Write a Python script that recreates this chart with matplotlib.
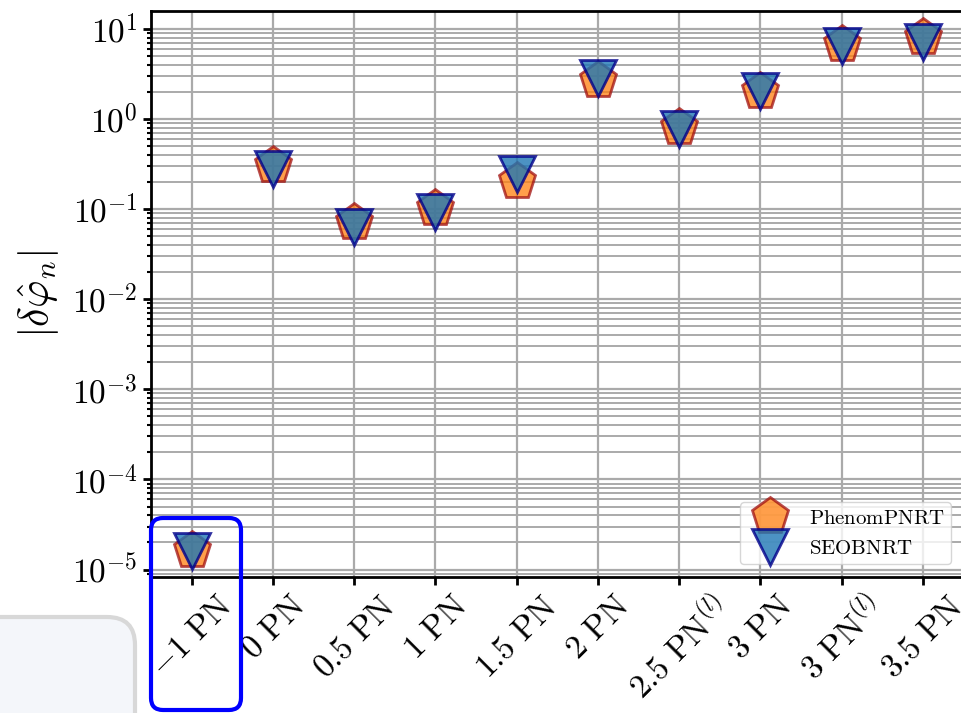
import matplotlib
matplotlib.use("Agg")
import matplotlib.pyplot as plt
from matplotlib.patches import FancyBboxPatch

plt.rcParams['mathtext.fontset'] = 'cm'
plt.rcParams['font.family'] = 'serif'
plt.rcParams['font.serif'] = ['DejaVu Serif']

# PN orders and deviations
pn_labels = [r'$-1\ \mathrm{PN}$', r'$0\ \mathrm{PN}$', r'$0.5\ \mathrm{PN}$',
             r'$1\ \mathrm{PN}$', r'$1.5\ \mathrm{PN}$', r'$2\ \mathrm{PN}$',
             r'$2.5\ \mathrm{PN}^{(l)}$', r'$3\ \mathrm{PN}$',
             r'$3\ \mathrm{PN}^{(l)}$', r'$3.5\ \mathrm{PN}$']
phenom_vals = [1.65e-5, 0.31, 0.071, 0.102, 0.205, 2.7, 0.81, 2.03, 6.8, 8.15]
seob_vals = [1.6e-5, 0.28, 0.064, 0.093, 0.243, 2.85, 0.78, 2.05, 6.45, 7.2]
y_exps = [-5, -4, -3, -2, -1, 0, 1]

fig = plt.figure(figsize=(9.62, 7.13), dpi=100)
ax = fig.add_axes([0.157, 0.191, 0.8445, 0.7936])

x = range(len(pn_labels))
ax.plot(x, phenom_vals, linestyle='none', marker='p', markersize=28,
        color='#ff7f0e', alpha=0.75, markeredgecolor='#a01010',
        markeredgewidth=2, label=r'$\mathrm{PhenomPNRT}$', zorder=3)
ax.plot(x, seob_vals, linestyle='none', marker='v', markersize=26.5,
        color='#1f77b4', alpha=0.8, markeredgecolor='darkblue',
        markeredgewidth=2, label=r'$\mathrm{SEOBNRT}$', zorder=4)

ax.set_yscale('log')
ax.set_ylim(8.3e-6, 15.8)
ax.set_xlim(-0.5, 9.5)
ax.set_xticks(list(x))
ax.set_xticklabels(pn_labels, rotation=45, fontsize=24)
ax.set_yticks([10.0 ** e for e in y_exps])
ax.set_yticklabels([r'$10^{%d}$' % e for e in y_exps], fontsize=24)
ax.tick_params(which='major', length=6, width=2)
ax.tick_params(which='minor', length=3, width=1.5)
ax.set_ylabel(r'$|\delta\hat{\varphi}_n|$', fontsize=30, labelpad=8)

ax.grid(True, which='major', color='#aaaaaa', linewidth=1.6)
ax.grid(True, which='minor', axis='y', color='#aaaaaa', linewidth=1.4)
ax.set_axisbelow(True)
for s in ax.spines.values():
    s.set_linewidth(2)

ax.legend(loc='lower right', fontsize=15, markerscale=1.0, handletextpad=0.7,
          handlelength=2.3, borderpad=0.3, labelspacing=0.55, framealpha=0.8,
          borderaxespad=0.6)

# screenshot overlays
fig.patches.append(FancyBboxPatch((-30, -40), 165, 136, boxstyle='round,pad=0,rounding_size=28',
                                  transform=None, facecolor='#f4f6fa', edgecolor='#d8d8d8',
                                  linewidth=3, zorder=5))
fig.patches.append(FancyBboxPatch((151, 3), 90, 192, boxstyle='round,pad=0,rounding_size=12',
                                  transform=None, facecolor='none', edgecolor='#0000ff',
                                  linewidth=3, zorder=6))

fig.savefig('out.png', dpi=100)
